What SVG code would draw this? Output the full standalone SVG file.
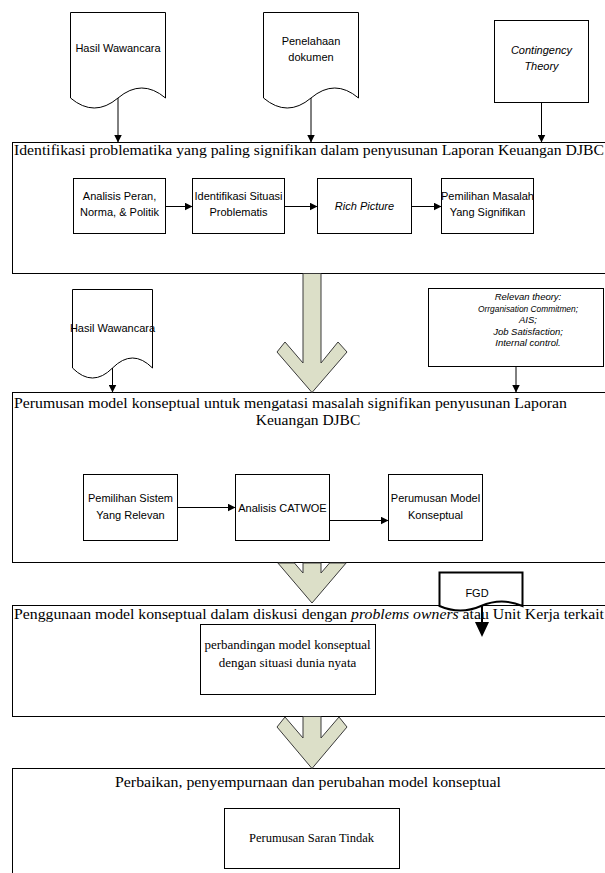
<svg xmlns="http://www.w3.org/2000/svg" width="605" height="873" viewBox="0 0 605 873">
<defs>
<style>
.box{fill:#fff;stroke:#000;stroke-width:1}
.doc{fill:#fff;stroke:#000;stroke-width:1}
.ln{fill:none;stroke:#000;stroke-width:1}
.big{fill:#dcdfc8;stroke:#3a3a3a;stroke-width:1}
.sans{font-family:"Liberation Sans",Arial,sans-serif;font-size:11px;fill:#000}
.it{font-style:italic}
.serif{font-family:"Liberation Serif","Times New Roman",serif;fill:#000}
.ttl{font-size:15.5px}
.sm{font-size:13px}
.rel{font-family:"Liberation Sans",Arial,sans-serif;font-size:9.5px;font-style:italic;fill:#000}
</style>
<marker id="ah" markerUnits="userSpaceOnUse" markerWidth="8" markerHeight="8" refX="8" refY="4" orient="auto">
<path d="M0,0 L8,4 L0,8 Z" fill="#000"/>
</marker>
</defs>
<rect width="605" height="873" fill="#fff"/>

<g id="box1">
<rect class="box" x="12.5" y="142.5" width="600" height="131"/>
<text class="serif ttl" x="14" y="155" textLength="590" lengthAdjust="spacingAndGlyphs">Identifikasi problematika yang paling signifikan dalam penyusunan Laporan Keuangan DJBC</text>
</g>
<g id="b1-analisis">
<rect class="box" x="73.5" y="178.5" width="92" height="55"/>
<text class="sans" text-anchor="middle" x="119.5" y="200">Analisis Peran,</text>
<text class="sans" text-anchor="middle" x="119.5" y="216">Norma, &amp; Politik</text>
</g>
<g id="b1-identifikasi">
<rect class="box" x="192.5" y="178.5" width="92" height="55"/>
<text class="sans" text-anchor="middle" x="238.5" y="200">Identifikasi Situasi</text>
<text class="sans" text-anchor="middle" x="238.5" y="216">Problematis</text>
</g>
<g id="b1-rich">
<rect class="box" x="317.5" y="178.5" width="94" height="55"/>
<text class="sans it" text-anchor="middle" x="364.5" y="210">Rich Picture</text>
</g>
<g id="b1-pemilihan">
<rect class="box" x="441.5" y="178.5" width="92" height="55"/>
<text class="sans" text-anchor="middle" x="487.5" y="200">Pemilihan Masalah</text>
<text class="sans" text-anchor="middle" x="487.5" y="216">Yang Signifikan</text>
</g>

<g id="box2">
<rect class="box" x="12.5" y="392.5" width="600" height="170"/>
<text class="serif ttl" x="14" y="408" textLength="553" lengthAdjust="spacingAndGlyphs">Perumusan model konseptual untuk mengatasi masalah signifikan penyusunan Laporan</text>
<text class="serif ttl" text-anchor="middle" x="308" y="425">Keuangan DJBC</text>
</g>
<g id="b2-pemilihan">
<rect class="box" x="83.5" y="474.5" width="94" height="66"/>
<text class="sans" text-anchor="middle" x="130.5" y="502">Pemilihan Sistem</text>
<text class="sans" text-anchor="middle" x="130.5" y="519">Yang Relevan</text>
</g>
<g id="b2-catwoe">
<rect class="box" x="235.5" y="474.5" width="94" height="66"/>
<text class="sans" text-anchor="middle" x="282.5" y="511.5">Analisis CATWOE</text>
</g>
<g id="b2-perumusan">
<rect class="box" x="388.5" y="474.5" width="94" height="66"/>
<text class="sans" text-anchor="middle" x="435.5" y="502">Perumusan Model</text>
<text class="sans" text-anchor="middle" x="435.5" y="519">Konseptual</text>
</g>

<g id="box3">
<rect class="box" x="12.5" y="605.5" width="600" height="111"/>
<text class="serif ttl" x="14" y="619" textLength="590" lengthAdjust="spacingAndGlyphs">Penggunaan model konseptual dalam diskusi dengan <tspan font-style="italic">problems owners</tspan> atau Unit Kerja terkait</text>
</g>
<g id="b3-perbandingan">
<rect class="box" x="200.5" y="624.5" width="175" height="70"/>
<text class="serif sm" text-anchor="middle" x="287.5" y="649">perbandingan model konseptual</text>
<text class="serif sm" text-anchor="middle" x="287.5" y="667">dengan situasi dunia nyata</text>
</g>

<g id="box4">
<rect class="box" x="12.5" y="768.5" width="600" height="200"/>
<text class="serif ttl" text-anchor="middle" x="308" y="787" textLength="386" lengthAdjust="spacingAndGlyphs">Perbaikan, penyempurnaan dan perubahan model konseptual</text>
</g>
<g id="b4-saran">
<rect class="box" x="224.5" y="808.5" width="175" height="60"/>
<text class="serif" font-size="12.5" text-anchor="middle" x="311.5" y="842">Perumusan Saran Tindak</text>
</g>

<g id="doc-hasil1">
<path class="doc" d="M70.5,12.5 H165.5 V98 Q141.75,78 118,98 T70.5,98 Z"/>
<text class="sans" text-anchor="middle" x="118" y="52">Hasil Wawancara</text>
</g>
<g id="doc-penelahaan">
<path class="doc" d="M263.5,12.5 H358.5 V98 Q334.75,78 311,98 T263.5,98 Z"/>
<text class="sans" text-anchor="middle" x="311" y="45">Penelahaan</text>
<text class="sans" text-anchor="middle" x="311" y="61">dokumen</text>
</g>
<g id="contingency">
<rect class="box" x="494.5" y="20.5" width="94" height="82"/>
<text class="sans it" text-anchor="middle" x="541.5" y="54">Contingency</text>
<text class="sans it" text-anchor="middle" x="541.5" y="70">Theory</text>
</g>
<g id="doc-hasil2">
<path class="doc" d="M72.5,289.5 H152.5 V368 Q132.5,348 112.5,368 T72.5,368 Z"/>
<text class="sans" text-anchor="middle" x="112.5" y="332">Hasil Wawancara</text>
</g>
<g id="relevan">
<rect class="box" x="428.5" y="288.5" width="175" height="78"/>
<text class="rel" text-anchor="middle" x="528" y="300">Relevan theory:</text>
<text class="rel" text-anchor="middle" x="528" y="311.5" textLength="100" lengthAdjust="spacingAndGlyphs">Orrganisation Commitmen;</text>
<text class="rel" text-anchor="middle" x="528" y="323">AIS;</text>
<text class="rel" text-anchor="middle" x="528" y="334.5">Job Satisfaction;</text>
<text class="rel" text-anchor="middle" x="528" y="346">Internal control.</text>
</g>
<g id="fgd">
<path d="M439.5,572.5 H522.5 V606 Q501.75,597 481,606 T439.5,606 Z" fill="#fff" stroke="#000" stroke-width="2"/>
<text class="sans" font-size="14" text-anchor="middle" x="477" y="597">FGD</text>
</g>

<g id="connectors">
<polygon class="big" points="303,273.5 321,273.5 321,363 338,342 347,352 312,392.5 277,352 285,342 303,363"/>
<polygon class="big" points="303,563 321,563 321,573 329.6,563 346.1,563 312,603 277.9,563 294.4,563 303,573"/>
<polygon class="big" points="303,716.5 321,716.5 321,738 339,717 347,727 312,768.5 277,727 285,717 303,738"/>
<line class="ln" x1="118" y1="98" x2="118" y2="142.5" marker-end="url(#ah)"/>
<line class="ln" x1="311" y1="98" x2="311" y2="142.5" marker-end="url(#ah)"/>
<line class="ln" x1="541.5" y1="102.5" x2="541.5" y2="142.5" marker-end="url(#ah)"/>
<line class="ln" x1="165.5" y1="206.5" x2="192.5" y2="206.5" marker-end="url(#ah)"/>
<line class="ln" x1="284.5" y1="206.5" x2="317.5" y2="206.5" marker-end="url(#ah)"/>
<line class="ln" x1="411.5" y1="206.5" x2="441.5" y2="206.5" marker-end="url(#ah)"/>
<line class="ln" x1="112.5" y1="368" x2="112.5" y2="392.5" marker-end="url(#ah)"/>
<line class="ln" x1="516" y1="366.5" x2="516" y2="392.5" marker-end="url(#ah)"/>
<line class="ln" x1="177.5" y1="507.5" x2="235.5" y2="507.5" marker-end="url(#ah)"/>
<line class="ln" x1="329.5" y1="520.5" x2="388.5" y2="520.5" marker-end="url(#ah)"/>
<line x1="482" y1="606" x2="482" y2="623" stroke="#000" stroke-width="2"/>
<polygon points="475,622 489,622 482,637" fill="#000"/>
</g>
</svg>
